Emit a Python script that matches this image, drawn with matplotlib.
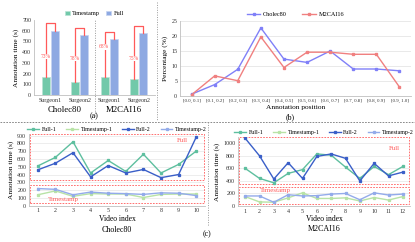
import numpy as np
import matplotlib
matplotlib.use("Agg")
import matplotlib.pyplot as plt
from matplotlib.patches import Rectangle
from matplotlib.lines import Line2D

plt.rcParams['font.family'] = ['Liberation Serif', 'DejaVu Serif']

# (a) annotation time per surgeon
surgeons = ['Surgeon1', 'Surgeon2', 'Surgeon1', 'Surgeon2']
datasets = ['Cholec80', 'M2CAI16']
ts_time = [165, 125, 165, 148]
full_time = [600, 560, 520, 580]
saving = ['73%', '78%', '68%', '75%']

# (b) annotation position distribution
positions = ['[0.0, 0.1]', '[0.1, 0.2]', '[0.2, 0.3]', '[0.3, 0.4]', '[0.4, 0.5]',
             '[0.5, 0.6]', '[0.6, 0.7]', '[0.7, 0.8]', '[0.8, 0.9]', '[0.9, 1.0]']
pos_cholec = [0.5, 3.7, 8.8, 22.6, 12.2, 11.1, 14.9, 8.9, 8.9, 8.3]
pos_m2cai = [0.3, 6.6, 5.0, 19.6, 9.4, 14.5, 14.5, 13.8, 13.8, 2.9]

# (c) per-video annotation time
ch_full1 = [510, 620, 820, 420, 580, 440, 660, 420, 530, 700]
ch_ts1 = [140, 190, 120, 155, 150, 150, 105, 145, 150, 150]
ch_full2 = [460, 545, 680, 370, 515, 420, 465, 360, 400, 880]
ch_ts2 = [220, 210, 140, 175, 160, 155, 145, 165, 160, 130]

m2_full1 = [600, 440, 370, 520, 580, 830, 810, 620, 440, 630, 500, 630]
m2_ts1 = [150, 65, 60, 130, 210, 120, 120, 130, 80, 135, 95, 150]
m2_full2 = [1080, 800, 430, 690, 440, 790, 830, 760, 400, 680, 480, 540]
m2_ts2 = [160, 160, 60, 180, 160, 165, 190, 200, 100, 210, 175, 190]

W, H = 415, 242
fig = plt.figure(figsize=(W / 100, H / 100), dpi=100)

def box(l, t, r, b):
    return [l / W, 1 - b / H, (r - l) / W, (b - t) / H]

RED = '#ff5a5a'
SP = '#bfbfbf'
TICK = 4.3

def style(ax):
    for s in ['top', 'right']:
        ax.spines[s].set_visible(False)
    for s in ['left', 'bottom']:
        ax.spines[s].set_color(SP)
        ax.spines[s].set_linewidth(0.6)
    ax.tick_params(length=0, labelsize=TICK, pad=2, colors='#333333')

# ---- (a)
axa = fig.add_axes(box(34, 20, 155, 95))
style(axa)
x = np.arange(len(surgeons))
bw = 0.27
axa.bar(x - 0.15, ts_time, bw, color='#72c9aa', edgecolor='#b9e3d4', linewidth=0.5, label='Timestamp')
axa.bar(x + 0.15, full_time, bw, color='#8ea9e2', edgecolor='#c5d3f1', linewidth=0.5, label='Full')
label_y = [360, 340, 450, 340]
for i in range(len(surgeons)):
    top = full_time[i] + 68
    axa.plot([x[i] - 0.15, x[i] - 0.15, x[i] + 0.15, x[i] + 0.15],
             [ts_time[i], top, top, full_time[i]], color=RED, lw=0.9)
    axa.text(x[i] - 0.17, label_y[i], saving[i], color=RED, fontsize=4,
             ha='center', va='center', zorder=5,
             bbox=dict(boxstyle='square,pad=0.05', fc='white', ec='none'))
axa.set_ylim(0, 700)
axa.set_yticks(range(0, 701, 100))
axa.set_xlim(-0.55, 3.55)
axa.set_xticks(x)
axa.set_xticklabels(surgeons)
axa.set_ylabel('Annotation time (s)', fontsize=5.3, labelpad=2)
axa.axvline(1.5, ymin=-0.28, ymax=1.02, color='#999999', ls=(0, (1, 1.5)), lw=0.7, clip_on=False)
axa.text(0.5, -0.15, datasets[0], transform=axa.get_xaxis_transform(), ha='center', va='top', fontsize=6.3)
axa.text(2.5, -0.15, datasets[1], transform=axa.get_xaxis_transform(), ha='center', va='top', fontsize=6.3)
axa.legend(loc='lower center', bbox_to_anchor=(0.5, 1.0), ncol=2, frameon=False, fontsize=4.5,
           handlelength=0.8, handleheight=0.8, columnspacing=1.0, handletextpad=0.4, borderpad=0.1)
fig.text(94 / W, 1 - 116 / H, '(a)', ha='center', va='center', fontsize=5.8)

# ---- (b)
axb = fig.add_axes(box(180, 20.7, 411, 95.7))
style(axb)
xb = np.arange(len(positions))
axb.plot(xb, pos_cholec, color='#8080f8', lw=1.0, marker='s', ms=1.6, label='Cholec80')
axb.plot(xb, pos_m2cai, color='#f08080', lw=1.0, marker='s', ms=1.6, label='M2CAI16')
axb.set_ylim(0, 25)
axb.set_yticks(range(0, 26, 5))
axb.set_xlim(-0.5, 9.5)
axb.set_xticks(xb)
axb.set_xticklabels(positions, fontsize=3.5)
axb.yaxis.grid(True, color='#e0e0e0', lw=0.5)
axb.set_axisbelow(True)
axb.set_ylabel('Percentage (%)', fontsize=5.3, labelpad=2)
axb.set_xlabel('Annotation position', fontsize=5.3, labelpad=2)
axb.legend(loc='lower center', bbox_to_anchor=(0.5, 1.0), ncol=2, frameon=False, fontsize=4.5,
           handlelength=2.2, columnspacing=2.5, handletextpad=0.4, borderpad=0.1)
fig.text(290 / W, 1 - 117 / H, '(b)', ha='center', va='center', fontsize=5.8)

# ---- (c)
colors = ['#5ebf9f', '#b8e3a6', '#3a5fc8', '#93abea']
names = ['Full-1', 'Timestamp-1', 'Full-2', 'Timestamp-2']

def panel_c(rect, series, ymax, yticks, fullbox, tsbox, fulltxt, tstxt, title):
    ax = fig.add_axes(rect)
    style(ax)
    n = len(series[0])
    xv = np.arange(1, n + 1)
    for s, c, nm in zip(series, colors, names):
        ax.plot(xv, s, color=c, lw=1.0, marker='s', ms=1.4, label=nm)
    ax.set_xlim(0.5, n + 0.5)
    ax.set_ylim(0, ymax)
    ax.set_xticks(xv)
    ax.set_yticks(yticks)
    ax.yaxis.grid(True, color='#e6e6e6', lw=0.5)
    ax.set_axisbelow(True)
    for (y0, y1) in [fullbox, tsbox]:
        ax.add_patch(Rectangle((0.55, y0), n - 0.1, y1 - y0, fill=False, ec=RED,
                               ls=(0, (2, 1.5)), lw=0.6))
    ax.text(fulltxt[0], fulltxt[1], 'Full', color=RED, fontsize=5, va='center')
    ax.text(tstxt[0], tstxt[1], 'Timestamp', color=RED, fontsize=5, va='center')
    ax.set_ylabel('Annotation time (s)', fontsize=5.3, labelpad=2)
    ax.set_xlabel('Video index', fontsize=5.5, labelpad=1)
    ax.text(0.5, -0.28, title, transform=ax.transAxes, ha='center', va='top', fontsize=5.8)
    ax.legend(loc='lower center', bbox_to_anchor=(0.5, 0.985), ncol=4, frameon=False, fontsize=4.3,
              handlelength=2.0, columnspacing=1.6, handletextpad=0.4, borderpad=0.0)
    return ax

panel_c(box(29, 134, 205, 205.7), [ch_full1, ch_ts1, ch_full2, ch_ts2], 920,
        range(0, 901, 100), (330, 915), (30, 265), (8.9, 840), (1.6, 75), datasets[0])
panel_c(box(238, 137, 410, 206), [m2_full1, m2_ts1, m2_full2, m2_ts2], 1100,
        range(0, 1001, 200), (345, 1095), (30, 300), (11.0, 920), (2.0, 245), datasets[1])
fig.text(207 / W, 1 - 234 / H, '(c)', ha='center', va='center', fontsize=5.8)

# separators
fig.add_artist(Line2D([0, 1], [1 - 121.5 / H] * 2, color='#777777', lw=0.6, ls=(0, (2, 1.5))))
fig.add_artist(Line2D([157 / W] * 2, [1 - 2 / H, 1 - 121 / H], color='#999999', lw=0.7, ls=(0, (1, 1.5))))
fig.add_artist(Line2D([208 / W] * 2, [1 - 122 / H, 1 - 226 / H], color='#999999', lw=0.7, ls=(0, (1, 1.5))))

fig.savefig('out.png', dpi=100)
